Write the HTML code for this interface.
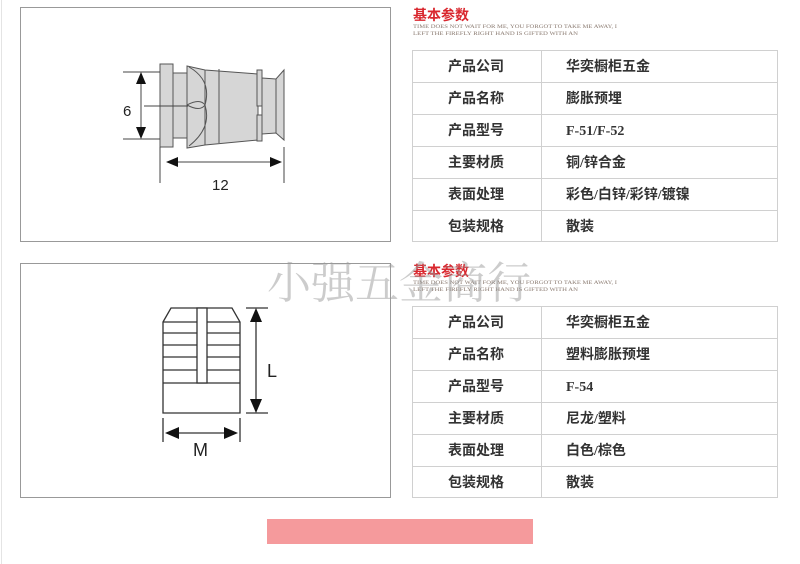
<!DOCTYPE html>
<html><head><meta charset="utf-8"><style>
html,body{margin:0;padding:0;background:#fff;width:800px;height:564px;overflow:hidden}
svg{display:block}
.h{font-family:"Liberation Sans","Noto Sans CJK SC",sans-serif;font-weight:bold;font-size:14px;fill:#333}
.v{font-family:"Liberation Serif","Noto Sans CJK SC",sans-serif;font-weight:bold;font-size:14px;fill:#333}
.t{font-family:"Liberation Sans","Noto Sans CJK SC",sans-serif;font-weight:bold;font-size:14px;fill:#d9272e}
.s{font-family:"Liberation Serif",serif;font-size:5.5px;fill:#8a7a70}
.d{font-family:"Liberation Sans",sans-serif;font-size:15px;fill:#222}
</style></head><body>
<svg width="800" height="564" viewBox="0 0 800 564" xmlns="http://www.w3.org/2000/svg">
<line x1="1.5" y1="0" x2="1.5" y2="564" stroke="#e4e4e4"/>
<rect x="20.5" y="7.5" width="370" height="234" fill="#fff" stroke="#999"/>
<rect x="20.5" y="263.5" width="370" height="234" fill="#fff" stroke="#999"/>

<!-- drawing 1 -->
<g stroke="#555" stroke-width="1" fill="#d6d6d6">
<rect x="160" y="64" width="13" height="83"/>
<rect x="173" y="73" width="14" height="65"/>
<path d="M187 66 L205 70 L258 74 L258 140 L205 145 L187 148 Z"/>
<line x1="205" y1="70" x2="205" y2="145"/>
<line x1="219" y1="69" x2="219" y2="143"/>
<path d="M189 67 Q212 80 205 105 Q212 128 189 146" fill="none"/>
<path d="M187 105 Q200 98 205 105 Q200 112 187 105" fill="none"/>
<rect x="257" y="70" width="5" height="36"/>
<rect x="257" y="115" width="5" height="26"/>
<path d="M262 78 L276 79 L284 70 L284 140 L276 133 L262 134 Z"/>
<line x1="276" y1="79" x2="276" y2="133"/>
</g>
<g stroke="#444" stroke-width="1">
<line x1="123" y1="72" x2="160" y2="72"/>
<line x1="123" y1="139" x2="160" y2="139"/>
<line x1="144" y1="106" x2="188" y2="106"/>
<line x1="141" y1="80" x2="141" y2="131"/>
<line x1="160" y1="147" x2="160" y2="183"/>
<line x1="284" y1="147" x2="284" y2="183"/>
<line x1="175" y1="162" x2="274" y2="162"/>
</g>
<g fill="#111">
<polygon points="141,72 136,84 146,84"/>
<polygon points="141,139 136,127 146,127"/>
<polygon points="166,162 178,157 178,167"/>
<polygon points="282,162 270,157 270,167"/>
</g>
<text class="d" x="123" y="116">6</text>
<text class="d" x="212" y="190">12</text>

<!-- drawing 2 -->
<g stroke="#333" stroke-width="1.3" fill="#fff">
<path d="M163 322 L171 308 L232 308 L240 322 L240 413 L163 413 Z"/>
<line x1="163" y1="322" x2="240" y2="322"/>
<line x1="163" y1="383" x2="240" y2="383"/>
<rect x="197" y="308" width="10" height="75"/>
<path d="M163 333 L197 333 M207 333 L240 333"/>
<path d="M163 345 L197 345 M207 345 L240 345"/>
<path d="M163 357 L197 357 M207 357 L240 357"/>
<path d="M163 370 L197 370 M207 370 L240 370"/>
</g>
<g stroke="#333" stroke-width="1.3">
<line x1="246" y1="308" x2="268" y2="308"/>
<line x1="246" y1="413" x2="268" y2="413"/>
<line x1="256" y1="318" x2="256" y2="403"/>
<line x1="163" y1="418" x2="163" y2="442"/>
<line x1="240" y1="418" x2="240" y2="442"/>
<line x1="175" y1="433" x2="228" y2="433"/>
</g>
<g fill="#111">
<polygon points="256,308 250,322 262,322"/>
<polygon points="256,413 250,399 262,399"/>
<polygon points="165,433 179,427 179,439"/>
<polygon points="238,433 224,427 224,439"/>
</g>
<text class="d" x="267" y="377" style="font-size:18px">L</text>
<text class="d" x="193" y="456" style="font-size:18px">M</text>

<!-- table 1 -->
<text class="t" x="413" y="20">基本参数</text>
<text class="s" x="413" y="28" textLength="204" lengthAdjust="spacingAndGlyphs">TIME DOES NOT WAIT FOR ME, YOU FORGOT TO TAKE ME AWAY, I</text>
<text class="s" x="413" y="35" textLength="165" lengthAdjust="spacingAndGlyphs">LEFT THE FIREFLY RIGHT HAND IS GIFTED WITH AN</text>
<g stroke="#d0d0d0" fill="none">
<rect x="412.5" y="50.5" width="365" height="191"/>
<line x1="541.5" y1="50" x2="541.5" y2="242"/>
<line x1="412" y1="82.5" x2="778" y2="82.5"/>
<line x1="412" y1="114.5" x2="778" y2="114.5"/>
<line x1="412" y1="146.5" x2="778" y2="146.5"/>
<line x1="412" y1="178.5" x2="778" y2="178.5"/>
<line x1="412" y1="210.5" x2="778" y2="210.5"/>
</g>
<text class="h" x="448" y="71">产品公司</text><text class="v" x="566" y="71">华奕橱柜五金</text>
<text class="h" x="448" y="103">产品名称</text><text class="v" x="566" y="103">膨胀预埋</text>
<text class="h" x="448" y="135">产品型号</text><text class="v" x="566" y="135">F-51/F-52</text>
<text class="h" x="448" y="167">主要材质</text><text class="v" x="566" y="167">铜/锌合金</text>
<text class="h" x="448" y="199">表面处理</text><text class="v" x="566" y="199">彩色/白锌/彩锌/镀镍</text>
<text class="h" x="448" y="231">包装规格</text><text class="v" x="566" y="231">散装</text>

<!-- table 2 -->
<text class="t" x="413" y="276">基本参数</text>
<text class="s" x="413" y="284" textLength="204" lengthAdjust="spacingAndGlyphs">TIME DOES NOT WAIT FOR ME, YOU FORGOT TO TAKE ME AWAY, I</text>
<text class="s" x="413" y="291" textLength="165" lengthAdjust="spacingAndGlyphs">LEFT THE FIREFLY RIGHT HAND IS GIFTED WITH AN</text>
<g stroke="#d0d0d0" fill="none">
<rect x="412.5" y="306.5" width="365" height="191"/>
<line x1="541.5" y1="306" x2="541.5" y2="498"/>
<line x1="412" y1="338.5" x2="778" y2="338.5"/>
<line x1="412" y1="370.5" x2="778" y2="370.5"/>
<line x1="412" y1="402.5" x2="778" y2="402.5"/>
<line x1="412" y1="434.5" x2="778" y2="434.5"/>
<line x1="412" y1="466.5" x2="778" y2="466.5"/>
</g>
<text class="h" x="448" y="327">产品公司</text><text class="v" x="566" y="327">华奕橱柜五金</text>
<text class="h" x="448" y="359">产品名称</text><text class="v" x="566" y="359">塑料膨胀预埋</text>
<text class="h" x="448" y="391">产品型号</text><text class="v" x="566" y="391">F-54</text>
<text class="h" x="448" y="423">主要材质</text><text class="v" x="566" y="423">尼龙/塑料</text>
<text class="h" x="448" y="455">表面处理</text><text class="v" x="566" y="455">白色/棕色</text>
<text class="h" x="448" y="487">包装规格</text><text class="v" x="566" y="487">散装</text>

<text x="267" y="298" style="font-family:'Noto Serif CJK SC','Liberation Serif',serif;font-size:44px;fill:#999;fill-opacity:0.5">小强五金商行</text>

<rect x="267" y="519" width="266" height="25" fill="#f59a9c"/>
</svg>
</body></html>
